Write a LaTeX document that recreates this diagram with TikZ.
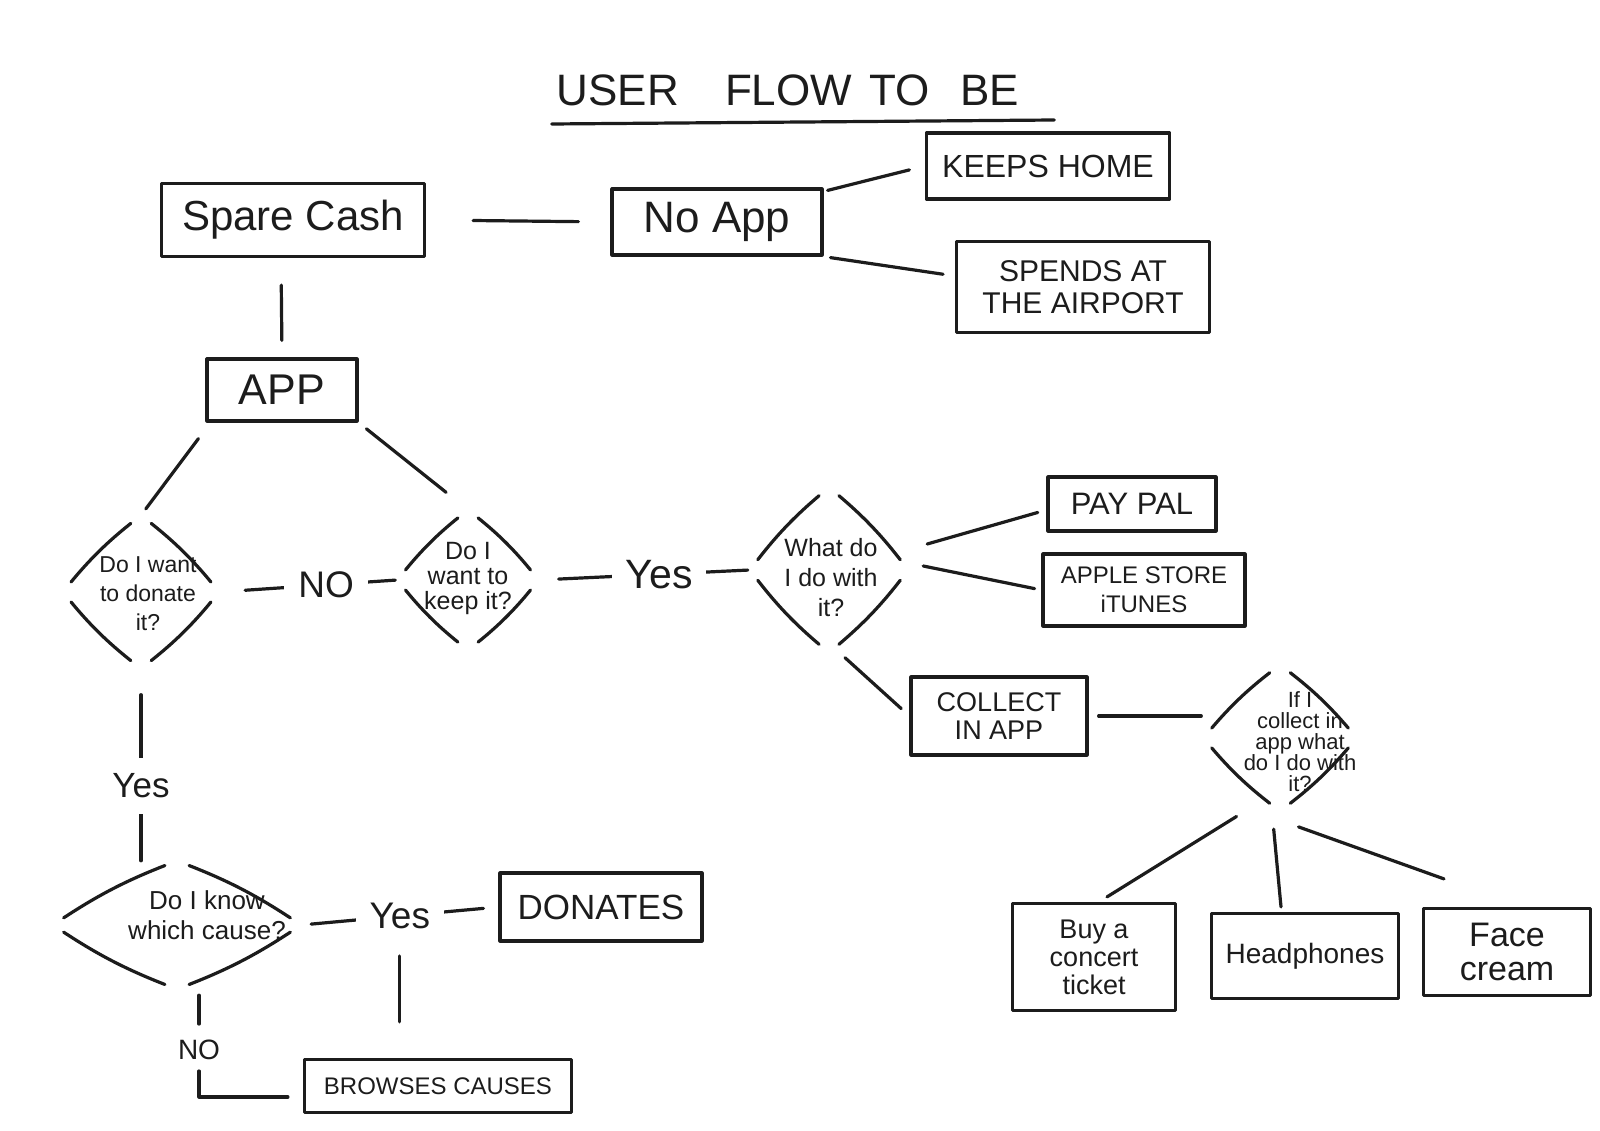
\documentclass[tikz,border=0pt]{standalone}
\usepackage{fontspec}
\setmainfont{Liberation Sans}
\usetikzlibrary{shapes.geometric,calc}
\definecolor{inkc}{RGB}{28,28,28}
\newcommand\fs[2]{\fontsize{#1}{#2}\selectfont}
\begin{document}
\begin{tikzpicture}[x=1pt,y=-1pt,
  ink/.style={line width=3.2pt, line cap=round, line join=round, draw=inkc},
  box/.style={ink, rectangle, inner sep=0pt, align=center, text=inkc},
  dia/.style={diamond, draw=none, inner sep=0pt},
  dtext/.style={align=center, inner sep=0pt, text=inkc},
  conn/.style={ink},
  lbl/.style={fill=white, inner xsep=14pt, inner ysep=10pt, text=inkc},
]
\useasboundingbox[fill=white] (0,0) rectangle (1600,1131);

% title
\node[inner sep=0pt, text=inkc, font=\fs{44}{50}] (title) at (788,90) {USER\hspace{46pt}FLOW\hspace{17pt}TO\hspace{31pt}BE};
\draw[ink] ([shift={(-5,34)}]title.west) -- ([shift={(35,30)}]title.east);

% boxes
\node[box, minimum width=263pt, minimum height=73pt, font=\fs{42}{46}] (spare) at (293,220) {Spare Cash};
\node[box, minimum width=210pt, minimum height=66pt, font=\fs{44}{48}] (noapp) at (717,222) {No App};
\node[box, minimum width=243pt, minimum height=66pt, font=\fs{32}{34}] (keeps) at (1048,166) {KEEPS HOME};
\node[box, minimum width=253pt, minimum height=91pt, font=\fs{30}{32}] (spends) at (1083,287) {SPENDS AT\\THE AIRPORT};
\node[box, minimum width=150pt, minimum height=62pt, font=\fs{43}{46}] (app) at (282,390) {APP};
\node[box, minimum width=168pt, minimum height=54pt, font=\fs{31}{34}] (paypal) at (1132,504) {PAY PAL};
\node[box, minimum width=202pt, minimum height=72pt, font=\fs{24}{29}] (apple) at (1144,590) {APPLE STORE\\iTUNES};
\node[box, minimum width=176pt, minimum height=78pt, font=\fs{27}{28}] (collect) at (999,716) {COLLECT\\IN APP};
\node[box, minimum width=163pt, minimum height=107pt, font=\fs{27}{28}] (buy) at (1094,957) {Buy a\\concert\\ticket};
\node[box, minimum width=187pt, minimum height=85pt, font=\fs{28}{30}] (head) at (1305,956) {Headphones};
\node[box, minimum width=167pt, minimum height=87pt, font=\fs{34}{34}] (face) at (1507,952) {Face\\cream};
\node[box, minimum width=202pt, minimum height=68pt, font=\fs{35}{38}] (donates) at (601,907) {DONATES};
\node[box, minimum width=267pt, minimum height=53pt, font=\fs{24}{26}] (browses) at (438,1086) {BROWSES CAUSES};

% diamonds
\node[dia, minimum width=156pt, minimum height=153pt] (d1) at (141,592) {};
\node[dia, minimum width=141pt, minimum height=140pt] (d2) at (468,580) {};
\node[dia, minimum width=158pt, minimum height=165pt] (d3) at (829,570) {};
\node[dia, minimum width=153pt, minimum height=146pt] (d4) at (1280,738) {};
\node[dia, minimum width=248pt, minimum height=128pt] (d5) at (177,925) {};
\node[dtext, font=\fs{23}{29}] (d1t) at (148,594) {Do I want\\to donate\\it?};
\node[dtext, font=\fs{25}{25}] (d2t) at (468,578) {Do I\\want to\\keep it?};
\node[dtext, font=\fs{25}{30}] (d3t) at (831,578) {What do\\I do with\\it?};
\node[dtext, font=\fs{22}{21}] (d4t) at (1300,742) {If I\\collect in\\app what\\do I do with\\it?};
\node[dtext, font=\fs{26}{30}] (d5t) at (207,915) {Do I know\\which cause?};
\foreach \d in {d1,d2,d3,d4,d5}{
  \draw[ink, shorten <=13pt, shorten >=13pt] (\d.north) to[bend left=6] (\d.east);
  \draw[ink, shorten <=13pt, shorten >=13pt] (\d.east) to[bend left=6] (\d.south);
  \draw[ink, shorten <=13pt, shorten >=13pt] (\d.south) to[bend left=6] (\d.west);
  \draw[ink, shorten <=13pt, shorten >=13pt] (\d.west) to[bend left=6] (\d.north);
}

% connectors
\draw[conn, shorten <=47pt, shorten >=32pt] (spare.east) -- (noapp.west);
\draw[conn, shorten >=16pt] ([shift={(4,3)}]noapp.north east) -- (keeps.west);
\draw[conn, shorten <=7pt, shorten >=12pt] (noapp.south east) -- ([shift={(0,-11)}]spends.west);
\draw[conn, shorten <=27pt, shorten >=17pt] ([shift={(-12,0)}]spare.south) -- (app.north);
\draw[conn, shorten <=20pt, shorten >=8pt] ([shift={(5,0)}]app.south west) -- (d1.north);
\draw[conn, shorten <=10pt, shorten >=28pt] (app.south east) -- (d2.north);
\draw[conn, shorten <=26pt, shorten >=2pt] (d1.east) -- node[lbl, pos=0.6, font=\fs{37}{40}] (no1) {NO} (d2.west);
\draw[conn, shorten <=20pt, shorten >=2pt] (d2.east) -- node[lbl, pos=0.57, font=\fs{41}{44}] (yes1) {Yes} (d3.west);
\draw[conn, shorten >=9pt] ([shift={(19,-26)}]d3.east) -- ([shift={(0,6)}]paypal.west);
\draw[conn, shorten >=7pt] ([shift={(15,-4)}]d3.east) -- (apple.west);
\draw[conn, shorten >=11pt] ([shift={(16,5)}]d3.south) -- (collect.west);
\draw[conn, shorten <=10pt, shorten >=2pt] (collect.east) -- (collect.east -| d4.west);
\draw[conn, shorten <=10pt] ([shift={(-35,0)}]d4.south) -- ([shift={(13,-5)}]buy.north);
\draw[conn, shorten <=18pt] ([shift={(-8,0)}]d4.south) -- ([shift={(-24,-5)}]head.north);
\draw[conn, shorten <=8pt] ([shift={(11,13)}]d4.south) -- ([shift={(-63,-28)}]face.north);
\draw[conn, shorten <=26pt] (d1.south) -- node[lbl, pos=0.61, inner ysep=16pt, font=\fs{35}{38}] (yes3) {Yes} (d1.south |- d5.north);
\draw[conn, shorten <=10pt, shorten >=15pt] (d5.east) -- node[lbl, pos=0.5, font=\fs{37}{40}] (yes2) {Yes} (donates.west);
\draw[conn, shorten <=40pt, shorten >=36pt] (yes2.center) -- (yes2.center |- browses.north);
\node[inner sep=2pt, text=inkc, font=\fs{28}{30}] (no2) at (199,1050) {NO};
\draw[conn, shorten <=6pt, shorten >=26pt] (no2 |- d5.south) -- (no2.center);
\draw[conn, shorten <=21pt, shorten >=15pt] (no2.center) |- ([shift={(0,11)}]browses.west);
\end{tikzpicture}
\end{document}
